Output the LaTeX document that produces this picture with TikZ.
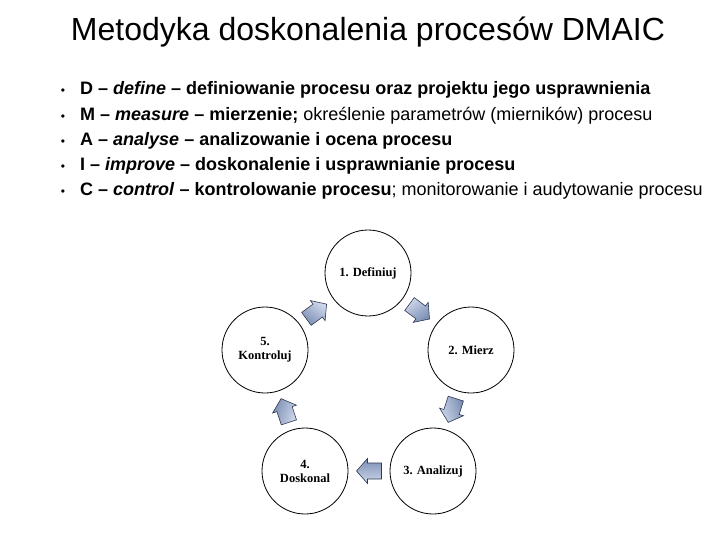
\documentclass[tikz,border=0pt]{standalone}
\usepackage{fontspec}
\setmainfont{Liberation Sans}
\newfontfamily\timesfont{Liberation Serif}
\usetikzlibrary{calc}
\definecolor{arrowlight}{HTML}{D0D9EC}
\definecolor{arrowdark}{HTML}{7A8DB2}
\definecolor{arrowedge}{HTML}{2F3A52}
\tikzset{
  stepcircle/.style={draw=black, line width=0.8pt, circle, minimum size=86pt, inner sep=0pt,
    align=center, font=\timesfont\bfseries\fontsize{12.5}{14}\selectfont},
  bulletdot/.style={anchor=base, inner sep=0pt, font=\fontsize{12}{14}\selectfont},
  bodyline/.style={anchor=base west, inner sep=0pt, font=\fontsize{18}{22}\selectfont},
  blockarr/.pic={
    \shade[draw=arrowedge, line width=0.6pt, top color=arrowlight, bottom color=arrowdark,
      shading angle=#1]
      (-12.5,-8) -- (1.5,-8) -- (1.5,-12.5) -- (12.5,0) -- (1.5,12.5) -- (1.5,8) -- (-12.5,8) -- cycle;
  },
}
\begin{document}
\begin{tikzpicture}[x=1pt, y=-1pt]
\useasboundingbox (0,0) rectangle (720,540);
\fill[white] (0,0) rectangle (720,540);
\node[anchor=base, inner sep=0pt, font=\fontsize{32}{38}\selectfont] (title) at (368,41) {Metodyka doskonalenia procesów DMAIC};

\node[bulletdot] (b1) at (63,95) {•};
\node[bulletdot] (b2) at (63,121) {•};
\node[bulletdot] (b3) at (63,146) {•};
\node[bulletdot] (b4) at (63,171) {•};
\node[bulletdot] (b5) at (63,196) {•};

\node[bodyline] (l1) at (80,95) {\textbf{D – \textit{define} – definiowanie procesu oraz projektu jego usprawnienia}};
\node[bodyline] (l2) at (80,121) {\textbf{M – \textit{measure} – mierzenie;} określenie parametrów (mierników) procesu};
\node[bodyline] (l3) at (80,146) {\textbf{A – \textit{analyse} – analizowanie i ocena procesu}};
\node[bodyline] (l4) at (80,171) {\textbf{I – \textit{improve} – doskonalenie i usprawnianie procesu}};
\node[bodyline] (l5) at (80,196) {\textbf{C – \textit{control} – kontrolowanie procesu}; monitorowanie i audytowanie procesu};

\node[stepcircle] (c1) at (368,273) {1. Definiuj};
\node[stepcircle] (c2) at (471,350) {2. Mierz};
\node[stepcircle] (c3) at (433,471) {3. Analizuj};
\node[stepcircle] (c4) at (305,471) {4.\\Doskonal};
\node[stepcircle] (c5) at (265,350) {5.\\Kontroluj};

\coordinate (a12) at ($(c1)!0.5!(c2)$);
\coordinate (a23) at ($(c2)!0.5!(c3)$);
\coordinate (a34) at ($(c3)!0.5!(c4)$);
\coordinate (a45) at ($(c4)!0.5!(c5)$);
\coordinate (a51) at ($(c5)!0.5!(c1)$);
\pic[rotate=-36.8] at (a12) {blockarr=36.8};
\pic[rotate=-107.6] at (a23) {blockarr=107.6};
\pic[rotate=180] at (a34) {blockarr=-180};
\pic[rotate=108.2] at (a45) {blockarr=-108.2};
\pic[rotate=36.2] at (a51) {blockarr=-36.2};
\end{tikzpicture}
\end{document}
